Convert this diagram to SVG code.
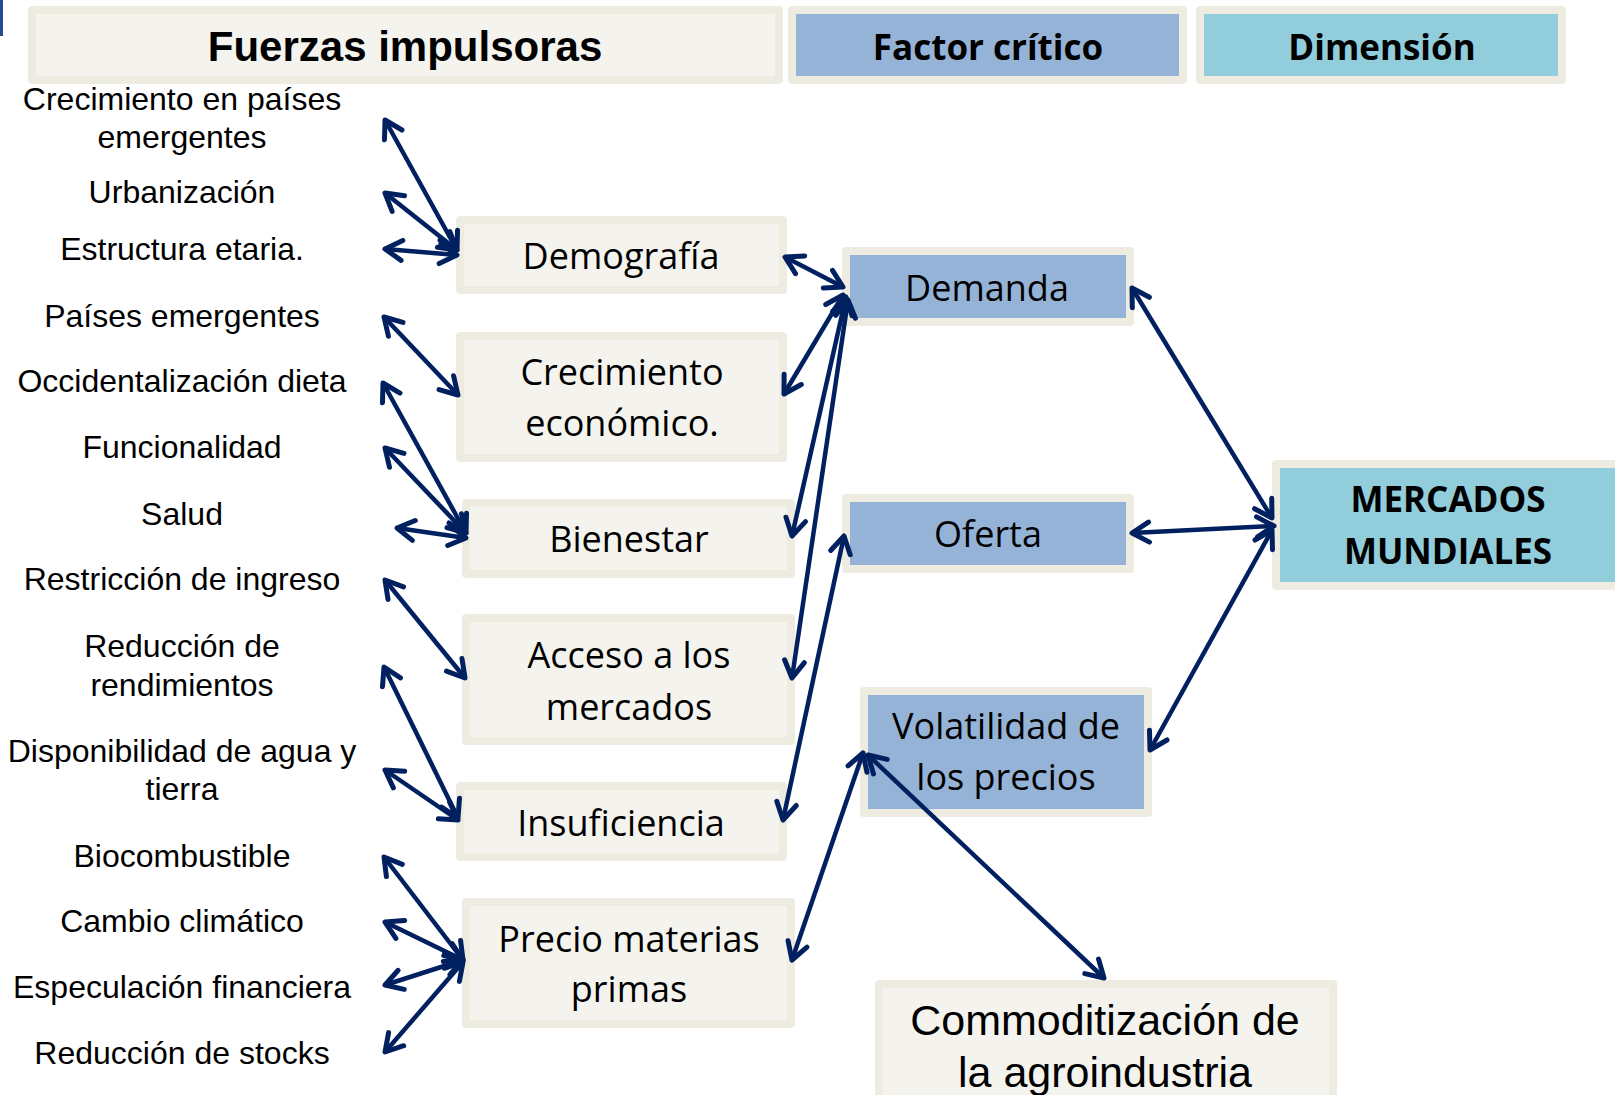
<svg xmlns="http://www.w3.org/2000/svg" width="1615" height="1095" viewBox="0 0 1615 1095">
<style>
.nb{fill:#F4F3EE;stroke:#EEECE1;stroke-width:8;stroke-linejoin:round}
.bb{fill:#95B3D7;stroke:#EEECE1;stroke-width:8;stroke-linejoin:round}
.tb{fill:#92CDDC;stroke:#EEECE1;stroke-width:8;stroke-linejoin:round}
.bt{font-family:"Open Sans","DejaVu Sans",sans-serif;font-size:36px;fill:#000;text-anchor:middle}
.ht{font-family:"Open Sans","DejaVu Sans",sans-serif;font-size:35px;font-weight:bold;fill:#000;text-anchor:middle}
.lt{font-family:"Liberation Sans",Arial,sans-serif;font-size:32px;fill:#000;text-anchor:middle}
.ct{font-family:"Liberation Sans",Arial,sans-serif;font-size:43px;fill:#000;text-anchor:middle}
.fh{font-family:"Liberation Sans",Arial,sans-serif;font-size:42px;font-weight:bold;fill:#000;text-anchor:middle}
.cn line{stroke:#002060;stroke-width:4.5;marker-start:url(#ah);marker-end:url(#ah)}
</style>
<defs>
<marker id="ah" viewBox="-22 -14 28 28" refX="0" refY="0" markerWidth="28" markerHeight="28" markerUnits="userSpaceOnUse" orient="auto-start-reverse" overflow="visible">
<path d="M-17,-10 L0,0 L-17,10" fill="none" stroke="#002060" stroke-width="5" stroke-linecap="round" stroke-linejoin="round"/>
</marker>
</defs>
<rect x="0" y="0" width="3" height="36" fill="#264A8C"/>

<g id="h-fuerzas"><rect class="nb" x="32" y="10" width="747" height="70"/><text class="fh" x="405" y="61">Fuerzas impulsoras</text></g>
<g id="h-factor"><rect class="bb" x="792" y="10" width="391" height="70"/><text class="ht" x="988" y="60">Factor crítico</text></g>
<g id="h-dimension"><rect class="tb" x="1200" y="10" width="362" height="70"/><text class="ht" x="1382" y="60">Dimensión</text></g>

<g id="f-crecimiento-paises"><text class="lt" x="182" y="110">Crecimiento en países</text><text class="lt" x="182" y="148">emergentes</text></g>
<g id="f-urbanizacion"><text class="lt" x="182" y="203">Urbanización</text></g>
<g id="f-estructura"><text class="lt" x="182" y="260">Estructura etaria.</text></g>
<g id="f-paises"><text class="lt" x="182" y="327">Países emergentes</text></g>
<g id="f-occidentalizacion"><text class="lt" x="182" y="392">Occidentalización dieta</text></g>
<g id="f-funcionalidad"><text class="lt" x="182" y="458">Funcionalidad</text></g>
<g id="f-salud"><text class="lt" x="182" y="525">Salud</text></g>
<g id="f-restriccion"><text class="lt" x="182" y="590">Restricción de ingreso</text></g>
<g id="f-reduccion-rend"><text class="lt" x="182" y="657">Reducción de</text><text class="lt" x="182" y="696">rendimientos</text></g>
<g id="f-disponibilidad"><text class="lt" x="182" y="762">Disponibilidad de agua y</text><text class="lt" x="182" y="800">tierra</text></g>
<g id="f-biocombustible"><text class="lt" x="182" y="867">Biocombustible</text></g>
<g id="f-cambio"><text class="lt" x="182" y="932">Cambio climático</text></g>
<g id="f-especulacion"><text class="lt" x="182" y="998">Especulación financiera</text></g>
<g id="f-stocks"><text class="lt" x="182" y="1064">Reducción de stocks</text></g>

<g id="n-demografia"><rect class="nb" x="460" y="220" width="323" height="70"/><text class="bt" x="621" y="269">Demografía</text></g>
<g id="n-crecimiento"><rect class="nb" x="460" y="336" width="323" height="122"/><text class="bt" x="622" y="385">Crecimiento</text><text class="bt" x="622" y="436">económico.</text></g>
<g id="n-bienestar"><rect class="nb" x="466" y="503" width="325" height="71"/><text class="bt" x="629" y="552">Bienestar</text></g>
<g id="n-acceso"><rect class="nb" x="466" y="618" width="325" height="123"/><text class="bt" x="629" y="668">Acceso a los</text><text class="bt" x="629" y="720">mercados</text></g>
<g id="n-insuficiencia"><rect class="nb" x="460" y="786" width="323" height="71"/><text class="bt" x="621" y="836">Insuficiencia</text></g>
<g id="n-precio"><rect class="nb" x="466" y="902" width="325" height="122"/><text class="bt" x="629" y="952">Precio materias</text><text class="bt" x="629" y="1002">primas</text></g>

<g id="n-demanda"><rect class="bb" x="846" y="251" width="284" height="71"/><text class="bt" x="987" y="301">Demanda</text></g>
<g id="n-oferta"><rect class="bb" x="846" y="498" width="284" height="71"/><text class="bt" x="988" y="547">Oferta</text></g>
<g id="n-volatilidad"><rect class="bb" x="864" y="691" width="284" height="122"/><text class="bt" x="1006" y="739">Volatilidad de</text><text class="bt" x="1006" y="790">los precios</text></g>
<g id="n-mercados"><rect class="tb" x="1276" y="464" width="360" height="122"/><text class="ht" x="1448" y="512">MERCADOS</text><text class="ht" x="1448" y="564">MUNDIALES</text></g>
<g id="n-commoditizacion"><rect class="nb" x="879" y="984" width="454" height="140"/><text class="ct" x="1105" y="1035">Commoditización de</text><text class="ct" x="1105" y="1087">la agroindustria</text></g>

<g id="connectors" class="cn">
<line x1="385" y1="120" x2="457" y2="250"/>
<line x1="385" y1="193" x2="457" y2="250"/>
<line x1="385" y1="249" x2="457" y2="255"/>
<line x1="384" y1="317" x2="458" y2="395"/>
<line x1="383" y1="383" x2="466" y2="533"/>
<line x1="385" y1="448" x2="466" y2="533"/>
<line x1="397" y1="528" x2="466" y2="538"/>
<line x1="385" y1="580" x2="465" y2="678"/>
<line x1="384" y1="667" x2="458" y2="818"/>
<line x1="385" y1="770" x2="458" y2="820"/>
<line x1="384" y1="857" x2="463" y2="960"/>
<line x1="385" y1="922" x2="463" y2="960"/>
<line x1="385" y1="985" x2="463" y2="960"/>
<line x1="385" y1="1052" x2="463" y2="962"/>
<line x1="785" y1="257" x2="843" y2="287"/>
<line x1="784" y1="394" x2="843" y2="295"/>
<line x1="792" y1="536" x2="846" y2="297"/>
<line x1="792" y1="678" x2="848" y2="300"/>
<line x1="783" y1="820" x2="844" y2="536"/>
<line x1="792" y1="960" x2="863" y2="753"/>
<line x1="868" y1="755" x2="1104" y2="978"/>
<line x1="1132" y1="288" x2="1272" y2="518"/>
<line x1="1132" y1="533" x2="1274" y2="526"/>
<line x1="1272" y1="530" x2="1150" y2="750"/>
</g>
</svg>
